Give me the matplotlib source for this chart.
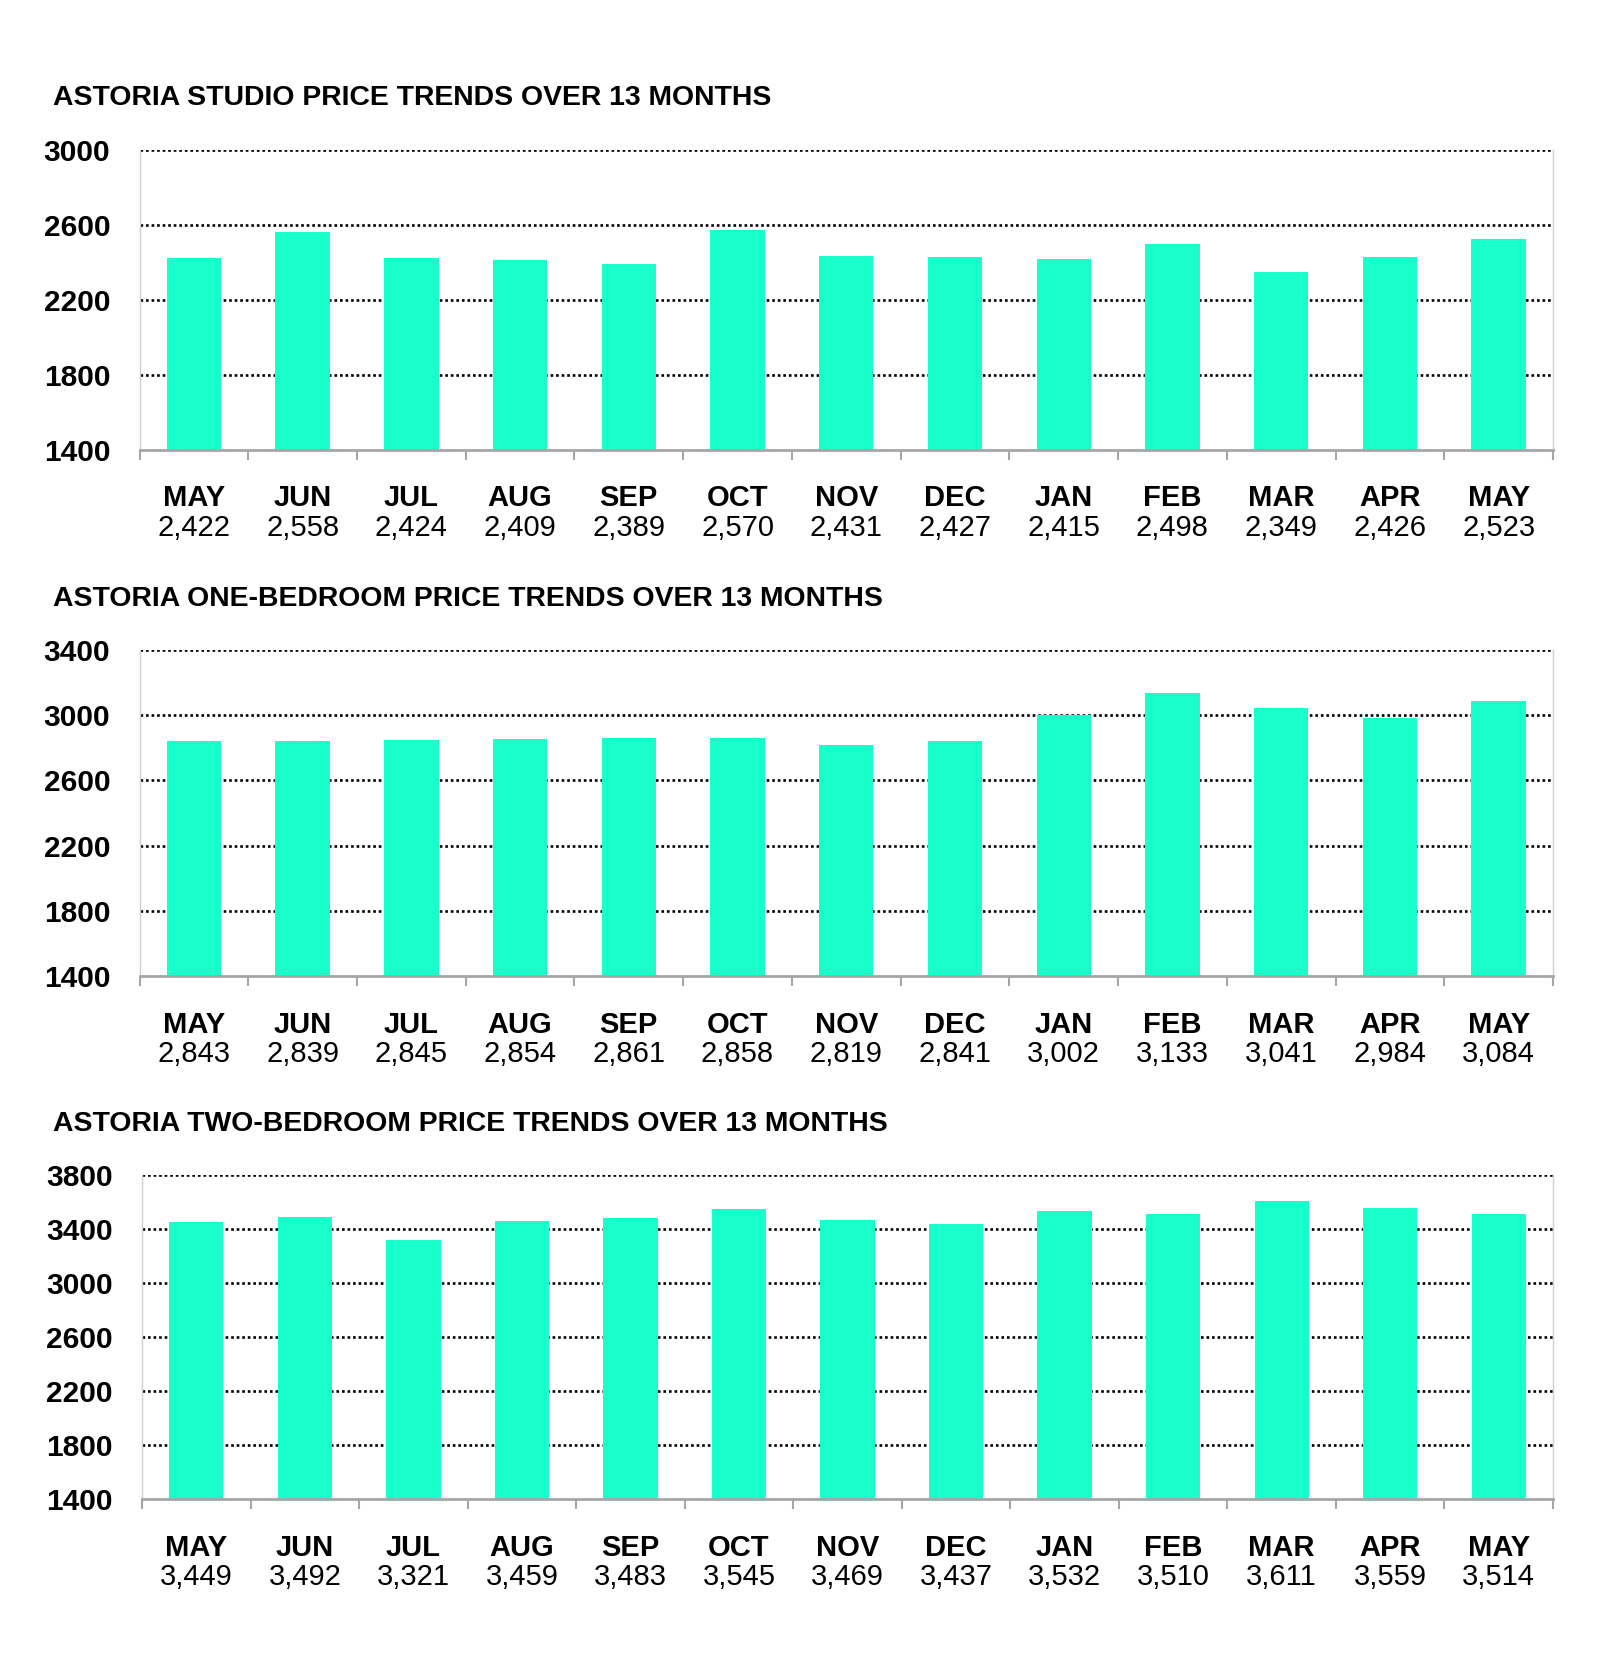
import matplotlib
matplotlib.use("Agg")
import matplotlib.pyplot as plt
from matplotlib import font_manager

months = ["MAY", "JUN", "JUL", "AUG", "SEP", "OCT", "NOV", "DEC", "JAN", "FEB", "MAR", "APR", "MAY"]
studio = [2422, 2558, 2424, 2409, 2389, 2570, 2431, 2427, 2415, 2498, 2349, 2426, 2523]
one_bed = [2843, 2839, 2845, 2854, 2861, 2858, 2819, 2841, 3002, 3133, 3041, 2984, 3084]
two_bed = [3449, 3492, 3321, 3459, 3483, 3545, 3469, 3437, 3532, 3510, 3611, 3559, 3514]
titles = ["ASTORIA STUDIO PRICE TRENDS OVER 13 MONTHS",
          "ASTORIA ONE-BEDROOM PRICE TRENDS OVER 13 MONTHS",
          "ASTORIA TWO-BEDROOM PRICE TRENDS OVER 13 MONTHS"]
yticks_list = [[1400, 1800, 2200, 2600, 3000],
               [1400, 1800, 2200, 2600, 3000, 3400],
               [1400, 1800, 2200, 2600, 3000, 3400, 3800]]

names = {f.name for f in font_manager.fontManager.ttflist}
ytick_family = ["Liberation Sans Narrow", "Liberation Sans"] if "Liberation Sans Narrow" in names else ["Liberation Sans"]

BAR = "#19FFCC"
fig = plt.figure(figsize=(16, 16.7), dpi=100)

# [left, bottom, width, height], title y
layout = [
    ([0.0872, 0.7308, 0.8834, 0.1796], 0.9413),
    ([0.0872, 0.4156, 0.8834, 0.1952], 0.6413),
    ([0.0888, 0.1024, 0.8818, 0.1940], 0.3269),
]
series = [studio, one_bed, two_bed]

for (rect, ty), vals, title, yt in zip(layout, series, titles, yticks_list):
    ax = fig.add_axes(rect)
    x = list(range(len(vals)))
    ymin, ymax = yt[0], yt[-1]
    for v in yt[1:]:
        ax.axhline(v, color="black", lw=1.9, ls=(0, (1, 1.1)), zorder=1)
    ax.bar(x, [v - ymin for v in vals], bottom=ymin, width=0.5, color=BAR, zorder=2)
    ax.set_ylim(ymin, ymax)
    ax.set_xlim(-0.5, len(vals) - 0.5)
    ax.set_yticks(yt)
    ax.set_yticklabels([str(v) for v in yt], family=ytick_family, fontweight="bold", fontsize=21.5)
    ax.tick_params(axis="y", length=0, pad=21)
    ax.set_xticks([i - 0.5 for i in range(len(vals) + 1)])
    ax.set_xticklabels([])
    ax.tick_params(axis="x", direction="out", length=7, width=1.5, color="#A6A6A6")
    ax.spines["top"].set_visible(False)
    ax.spines["bottom"].set_color("#A6A6A6")
    ax.spines["bottom"].set_linewidth(2)
    ax.spines["left"].set_color("#D0D0D0")
    ax.spines["left"].set_linewidth(1)
    ax.spines["right"].set_color("#D0D0D0")
    ax.spines["right"].set_linewidth(1)
    for i, (m, v) in enumerate(zip(months, vals)):
        ax.annotate(m, xy=(i, 0), xycoords=("data", "axes fraction"),
                    xytext=(0, -35), textcoords="offset points", ha="center", va="center",
                    fontsize=21, fontweight="bold", family="Liberation Sans")
        ax.annotate(f"{v:,}", xy=(i, 0), xycoords=("data", "axes fraction"),
                    xytext=(0, -56.5), textcoords="offset points", ha="center", va="center",
                    fontsize=21, family="Liberation Sans")
    fig.text(0.033, ty, title, ha="left", va="center", fontsize=20.4, fontweight="bold",
             family="Liberation Sans")

fig.savefig("out.png", dpi=100, facecolor="white")
